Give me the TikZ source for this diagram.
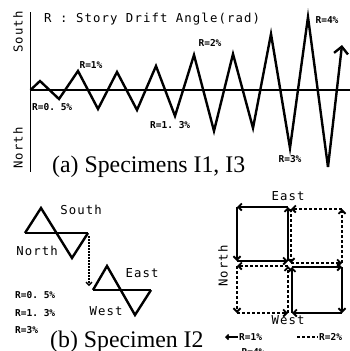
\documentclass[tikz,border=0pt]{standalone}
\usepackage{fontspec}
\setmainfont{Liberation Serif}
\newfontfamily\titlef[LetterSpace=9]{DejaVu Sans Mono}
\newfontfamily\labf{DejaVu Sans Mono}
\usetikzlibrary{arrows.meta}
\begin{document}
\begin{tikzpicture}[x=1pt,y=-1pt,
  axis/.style={line width=1.2pt},
  zig/.style={line width=2.4pt,line join=miter},
  big/.style={font=\titlef\fontsize{12.3}{12.3}\selectfont,inner sep=0pt},
  lab/.style={font=\labf\bfseries\fontsize{9.5}{9.5}\selectfont,inner sep=0pt},
  captext/.style={font=\fontsize{23.8}{24}\selectfont,inner sep=0pt,anchor=base west},
  sq/.style={line width=1.8pt},
  dsq/.style={line width=1.8pt,dash pattern=on 3pt off 2pt},
  barb/.style={-{Straight Barb[length=3.5pt,width=7pt]}},
  bigbarb/.style={-{Straight Barb[length=7pt,width=14pt]}}]
\useasboundingbox (0,0) rectangle (350,351);
% ---------- (a) ----------
\coordinate (ytop) at (30.5,12);
\coordinate (ybot) at (30.5,172);
\coordinate (x0) at (30.5,90);
\coordinate (x1) at (350,90);
\draw[axis] (ytop) -- (ybot);
\draw[axis] (x0) -- (x1);
\draw[zig] (30.5,90) -- (40,81) -- (59,99) -- (78,71) -- (98,109) -- (117,72) -- (137,110)
  -- (156,66) -- (175,116) -- (194,55) -- (214,131) -- (233,54) -- (253,128)
  -- (271,34) -- (290,148) -- (308,17) -- (328,167) coordinate (zlast);
\coordinate (zend) at (342,45);
\draw[zig,bigbarb] (zlast) -- (zend);
\node[big,anchor=west] (title) at (44,19) {R : Story Drift Angle(rad)};
\node[big,rotate=90] (south) at (18,32) {South};
\node[big,rotate=90] (north) at (18,148) {North};
\node[lab] (r1) at (91,65) {R=1\%};
\node[lab,anchor=west] (r05) at (32,107) {R=0.\kern5.7pt5\%};
\node[lab,anchor=west] (r13) at (150,125) {R=1.\kern5.7pt3\%};
\node[lab] (r2) at (210,43) {R=2\%};
\node[lab] (r3) at (290,159) {R=3\%};
\node[lab] (r4) at (327,20) {R=4\%};
\node[captext] (capa) at (52,172) {(a) Specimens I1, I3};
% ---------- (b) left ----------
\coordinate (a1) at (25,233);
\coordinate (a2) at (88,233);
\draw[line width=2pt] (a1) -- (a2);
\draw[zig] (a1) -- (41,208) -- (72,258) -- (a2);
\coordinate (b1) at (93,290);
\coordinate (b2) at (151,290);
\draw[line width=2pt] (b1) -- (b2);
\draw[zig] (b1) -- (107,266) -- (135,315) -- (b2);
\coordinate (d1) at (89,236);
\coordinate (d2) at (89,286);
\draw[line width=1.4pt,dash pattern=on 1.5pt off 1.5pt,-{Straight Barb[length=3pt,width=6pt]}] (d1) -- (d2);
\node[big] (s2) at (81,210) {South};
\node[big] (n2) at (37,251) {North};
\node[big] (e2) at (142,273) {East};
\node[big] (w2) at (106,311) {West};
\node[lab,anchor=west] (l1) at (15,295) {R=0.\kern5.7pt5\%};
\node[lab,anchor=west] (l2) at (15,313) {R=1.\kern5.7pt3\%};
\node[lab,anchor=west] (l3) at (15,330) {R=3\%};
\node[captext] (capb) at (50,347) {(b) Specimen I2};
% ---------- (b) right ----------
\coordinate (A) at (237,207); \coordinate (B) at (288,207);
\coordinate (C) at (288,261); \coordinate (D) at (237,261);
\draw[sq,barb] (C) -- (B); \draw[sq,barb] (B) -- (A);
\draw[sq,barb] (A) -- (D); \draw[sq,barb] (D) -- (C);
\coordinate (E) at (291,209); \coordinate (F) at (342,209);
\coordinate (G) at (342,263); \coordinate (H) at (291,263);
\draw[dsq,barb] (H) -- (G); \draw[dsq,barb] (G) -- (F);
\draw[dsq,barb] (F) -- (E); \draw[dsq,barb] (E) -- (H);
\coordinate (I) at (237,266); \coordinate (J) at (288,266);
\coordinate (K) at (288,313); \coordinate (L) at (237,313);
\draw[dsq,barb] (J) -- (I); \draw[dsq,barb] (I) -- (L);
\draw[dsq,barb] (L) -- (K); \draw[dsq,barb] (K) -- (J);
\coordinate (M) at (292,267); \coordinate (N) at (342,267);
\coordinate (O) at (342,313); \coordinate (P) at (292,313);
\draw[sq,barb] (M) -- (N); \draw[sq,barb] (N) -- (O);
\draw[sq,barb] (O) -- (P); \draw[sq,barb] (P) -- (M);
\node[big] (e3) at (288,196) {East};
\node[big,rotate=90] (n3) at (223,266) {North};
\node[big] (w3) at (288,320) {West};
% legend
\coordinate (g1) at (238,337); \coordinate (g2) at (225,337);
\draw[line width=1.6pt,-{Straight Barb[length=2.5pt,width=5pt]}] (g1) -- (g2);
\node[lab,anchor=west] (gr1) at (239,337) {R=1\%};
\coordinate (h1) at (297,337); \coordinate (h2) at (318,337);
\draw[line width=1.6pt,dash pattern=on 3pt off 2pt] (h1) -- (h2);
\node[lab,anchor=west] (gr2) at (319,337) {R=2\%};
\node[lab] (gr4) at (253,352) {R=4\%};
\end{tikzpicture}
\end{document}
